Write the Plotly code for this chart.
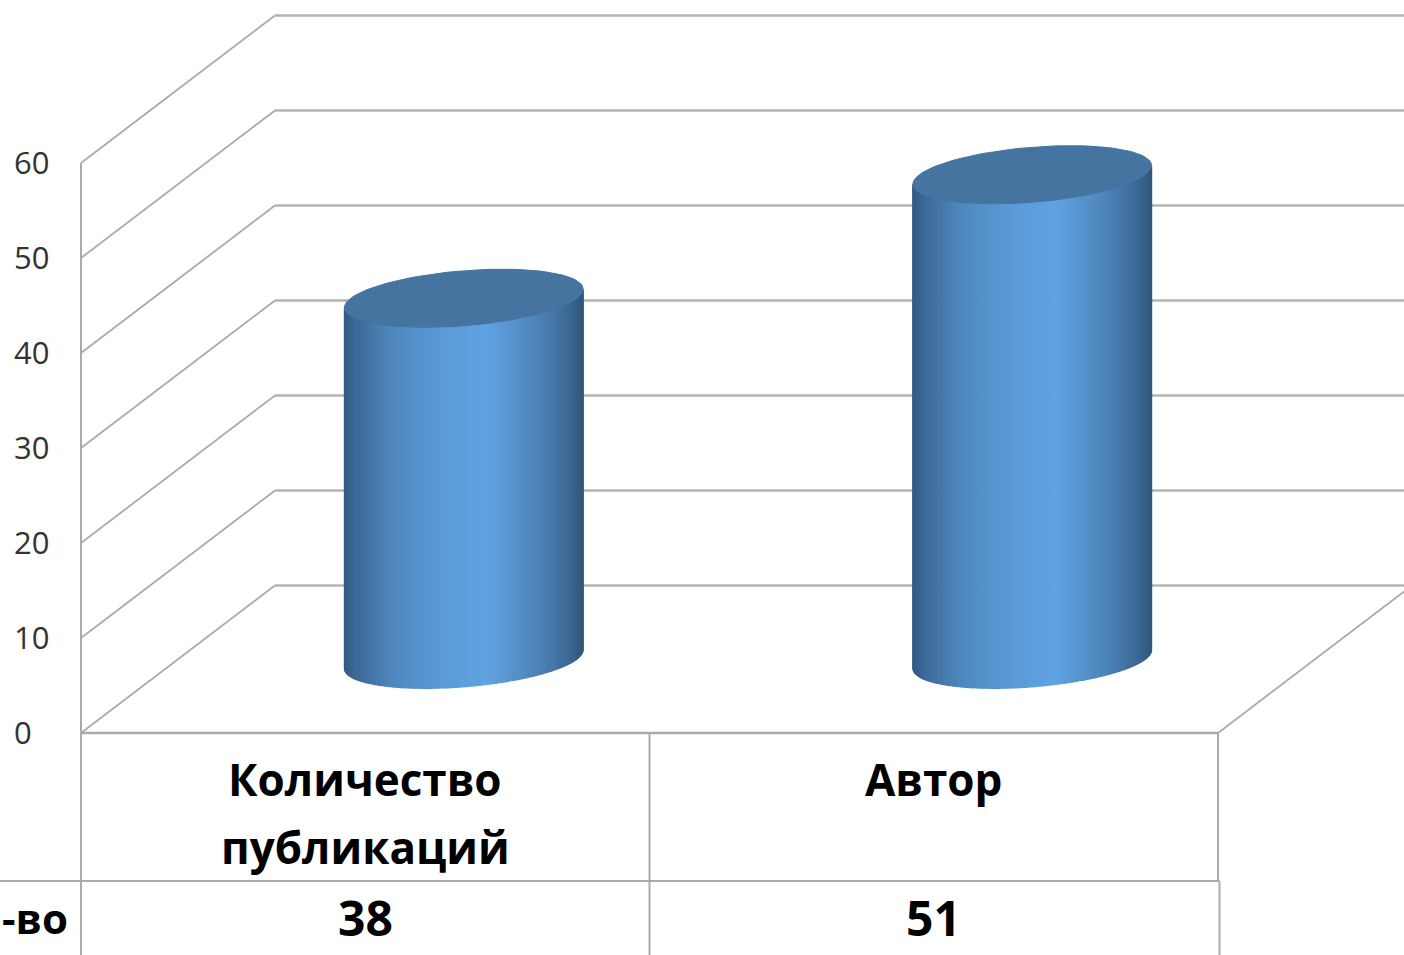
import math
import plotly.graph_objects as go

# ---- data ----
categories = [["Количество", "публикаций"], ["Автор"]]
values = [38, 51]
row_label = "-во"
y_ticks = [0, 10, 20, 30, 40, 50, 60]

# ---- projection of the pseudo-3D box, in data units ----
PX_X = 568.5            # px per category
PX_Y = 9.5              # px per value unit
W, H = 1404, 955
X0_PX, Y0_PX = 81, 733  # origin of the front plane
DX = 194 / PX_X         # depth shift per unit depth
DY = 147.5 / PX_Y
GRID = "#aaaaaa"
TXT = "#000000"

def proj(c, v, d=0.0):
    return c + d * DX, v + d * DY

def px_x(p):
    return (p - X0_PX) / PX_X

def px_y(p):
    return (Y0_PX - p) / PX_Y

X_RANGE = [px_x(0), px_x(W)]
Y_RANGE = [px_y(H), px_y(0)]
n = len(categories)
top = y_ticks[-1]
fig = go.Figure()

def line(xs, ys, width=2.0, color=GRID):
    fig.add_trace(go.Scatter(x=xs, y=ys, mode="lines", hoverinfo="skip", showlegend=False,
                             line=dict(color=color, width=width), cliponaxis=True))

# walls and floor
for v in y_ticks:
    x1, y1 = proj(0, v, 0)
    x2, y2 = proj(0, v, 1)
    line([x1, x2], [y1, y2], width=1.8)
    line([x2, X_RANGE[1]], [y2, y2], width=2.4, color="#b4b4b4")
line([0, 0], [0, top])
x2, y2 = proj(n, 0, 1)
line([n, x2], [0, y2], width=1.8)
line([0, n], [0, 0], width=2.6)

# table under the axis
row_y = px_y(881)
for i in range(n + 1):
    line([i, i], [0, row_y])
    xx = i if i < n else n + 1.5 / PX_X
    line([xx, xx], [row_y, Y_RANGE[0]])
line([X_RANGE[0], n + 1.5 / PX_X], [row_y, row_y], width=2.2)

# cylinders
stops = [(0.0, (50, 90, 130)), (0.05, (60, 105, 150)), (0.2, (78, 135, 190)), (0.35, (88, 150, 210)),
         (0.6, (96, 163, 226)), (0.82, (76, 130, 183)), (0.94, (60, 105, 148)), (1.0, (48, 88, 122))]

def shade(f):
    for (a, ca), (b, cb) in zip(stops, stops[1:]):
        if f <= b:
            k = (f - a) / (b - a)
            return "rgb(%d,%d,%d)" % tuple(round(p + (q - p) * k) for p, q in zip(ca, cb))
    return "rgb(%d,%d,%d)" % stops[-1][1]

RA = 113 / PX_X   # half-width along the category axis
RD = 0.197        # radius along the depth axis
SHIFT = 1.5 / PX_X

def rim(i, v, t):
    return proj(i + 0.5 + SHIFT + RA * math.cos(t) + RD * DX * math.sin(t), v + RD * DY * math.sin(t), 0.5)

tr = math.atan2(RD * DX, RA)
half = math.hypot(RA, RD * DX)
N = 90
for i, v in enumerate(values):
    ts = [tr + math.pi + math.pi * k / N for k in range(N + 1)]
    cx = proj(i + 0.5 + SHIFT, 0, 0.5)[0]
    for a, b in zip(ts, ts[1:]):
        p1, p2 = rim(i, 0, a), rim(i, 0, b)
        p3, p4 = rim(i, v, b), rim(i, v, a)
        f = ((p1[0] + p2[0]) / 2 - cx + half) / (2 * half)
        c = shade(f)
        fig.add_trace(go.Scatter(
            x=[p1[0], p2[0], p3[0], p4[0], p1[0]], y=[p1[1], p2[1], p3[1], p4[1], p1[1]],
            mode="lines", fill="toself", fillcolor=c, line=dict(color=c, width=1.2),
            hoverinfo="skip", showlegend=False))
    lid = [rim(i, v, 2 * math.pi * k / 120) for k in range(121)]
    fig.add_trace(go.Scatter(
        x=[p[0] for p in lid], y=[p[1] for p in lid], mode="lines", fill="toself",
        fillcolor="#44749f", line=dict(color="#44749f", width=1),
        hoverinfo="skip", showlegend=False))

# table text
annots = []
FONT = "Open Sans"
LINE_PX = [779, 847]
VALUE_Y = px_y(917)
for i, (c, v) in enumerate(zip(categories, values)):
    for txt, py in zip(c, LINE_PX):
        annots.append(dict(x=i + 0.5, y=px_y(py), text="<b>%s</b>" % txt, showarrow=False, xanchor="center",
                           yanchor="middle", font=dict(family=FONT, size=44, color=TXT)))
    annots.append(dict(x=i + 0.5, y=VALUE_Y, text="<b>%d</b>" % v, showarrow=False, xanchor="center",
                       yanchor="middle", font=dict(family=FONT, size=48, color=TXT)))
annots.append(dict(x=px_x(70), y=VALUE_Y, text="<b>%s</b>" % row_label, showarrow=False, xanchor="right",
                   yanchor="middle", font=dict(family=FONT, size=42, color=TXT)))

fig.update_layout(
    width=W, height=H, margin=dict(l=0, r=0, t=0, b=0), autosize=False,
    paper_bgcolor="white", plot_bgcolor="white", showlegend=False, annotations=annots,
    xaxis=dict(range=X_RANGE, visible=False, fixedrange=True),
    yaxis=dict(range=Y_RANGE, tickmode="array", tickvals=y_ticks, ticktext=[str(t) for t in y_ticks],
               showgrid=False, zeroline=False, showline=False, ticks="", fixedrange=True,
               anchor="free", position=0.0, ticklabelposition="inside", ticklabelstandoff=10,
               tickfont=dict(family=FONT, size=31, color="#333333")),
)
fig.write_html("out.html", config={"displayModeBar": False},
               post_script="document.body.style.margin='0';document.body.style.overflow='hidden';")
